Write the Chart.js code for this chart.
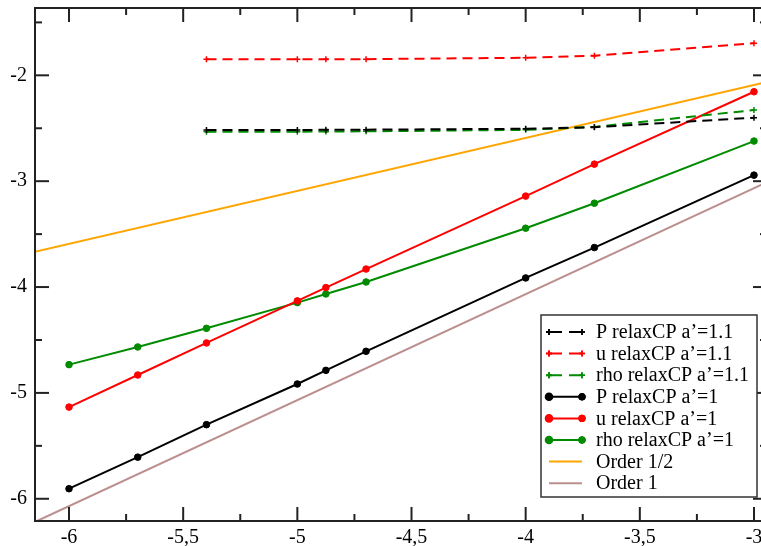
<!DOCTYPE html>
<html>
<head>
<meta charset="utf-8">
<script src="https://cdn.jsdelivr.net/npm/chart.js@4"></script>
<style>
html, body { margin: 0; padding: 0; background: #fff; overflow: hidden; }
#wrap { width: 780px; height: 546px; }
</style>
</head>
<body>
<div id="wrap"><canvas id="canvas" width="780" height="546"></canvas></div>
<script>
// abscisses : log10 du pas
var X_A1  = [-6, -5.699, -5.398, -5, -4.875, -4.699, -4, -3.699, -3];
var X_A11 = [-5.398, -5, -4.875, -4.699, -4, -3.699, -3];
var X_ORDER = [-6.15, -2.943];

// a'=1.1 (tirets)
var P_A11   = [-2.517, -2.516, -2.515, -2.513, -2.505, -2.490, -2.400];
var U_A11   = [-1.849, -1.849, -1.848, -1.847, -1.834, -1.815, -1.697];
var RHO_A11 = [-2.533, -2.532, -2.531, -2.529, -2.515, -2.487, -2.328];

// a'=1 (traits pleins)
var P_A1   = [-5.905, -5.607, -5.300, -4.916, -4.787, -4.607, -3.914, -3.627, -2.943];
var U_A1   = [-5.134, -4.831, -4.528, -4.131, -4.005, -3.830, -3.141, -2.839, -2.155];
var RHO_A1 = [-4.733, -4.566, -4.390, -4.147, -4.065, -3.952, -3.444, -3.208, -2.621];

// droites de reference
var ORDER_HALF = [-3.667, -2.062];
var ORDER_ONE  = [-6.220, -3.010];

var X_TICKS = [-6, -5.5, -5, -4.5, -4, -3.5, -3];
var X_MINOR = [-5.75, -5.25, -4.75, -4.25, -3.75, -3.25];
var Y_TICKS = [-6, -5, -4, -3, -2];
var Y_MINOR = [-5.5, -4.5, -3.5, -2.5, -1.5];

var FONT = "'Liberation Serif', 'Times New Roman', serif";

function pts(xs, ys){
    var out = [];
    for(var i = 0; i < xs.length; i++){
        out.push({x: xs[i], y: ys[i]});
    }
    return out;
}

function serie(label, xs, ys, color, dashed){
    return {
        label: label,
        data: pts(xs, ys),
        borderColor: color,
        backgroundColor: color,
        borderWidth: 2,
        borderDash: dashed ? [10, 6] : [],
        pointStyle: dashed ? 'cross' : 'circle',
        pointRadius: dashed ? 3 : 3.3,
        pointBorderWidth: dashed ? 1.5 : 1,
        tension: 0
    };
}

var GREEN = '#008b00';
var datasets = [
    serie("P relaxCP a\u2019=1.1", X_A11, P_A11, '#000000', true),
    serie("u relaxCP a\u2019=1.1", X_A11, U_A11, '#ff0000', true),
    serie("rho relaxCP a\u2019=1.1", X_A11, RHO_A11, GREEN, true),
    serie("P relaxCP a\u2019=1", X_A1, P_A1, '#000000', false),
    serie("u relaxCP a\u2019=1", X_A1, U_A1, '#ff0000', false),
    serie("rho relaxCP a\u2019=1", X_A1, RHO_A1, GREEN, false),
    serie("Order 1/2", X_ORDER, ORDER_HALF, '#ffa500', false),
    serie("Order 1", X_ORDER, ORDER_ONE, '#bc8f8f', false)
];
datasets[6].pointRadius = 0;
datasets[7].pointRadius = 0;

// cadre + graduations vers l'interieur
var cadre = {
    id: 'cadre',
    afterDraw: function(chart){
        var c = chart.ctx, a = chart.chartArea;
        var sx = chart.scales.x, sy = chart.scales.y;
        c.save();
        c.strokeStyle = '#222';
        c.lineWidth = 2;
        function seg(x1, y1, x2, y2){
            c.beginPath(); c.moveTo(x1, y1); c.lineTo(x2, y2); c.stroke();
        }
        function tx(v, len){
            var p = sx.getPixelForValue(v);
            seg(p, a.bottom, p, a.bottom - len);
            seg(p, a.top, p, a.top + len);
        }
        function ty(v, len){
            var p = sy.getPixelForValue(v);
            seg(a.left, p, a.left + len, p);
            seg(a.right, p, a.right - len, p);
        }
        X_TICKS.forEach(function(v){ tx(v, 14); });
        X_MINOR.forEach(function(v){ tx(v, 7); });
        Y_TICKS.forEach(function(v){ ty(v, 14); });
        Y_MINOR.forEach(function(v){ ty(v, 7); });
        c.strokeRect(a.left, a.top, a.right - a.left, a.bottom - a.top);
        c.restore();
    }
};

// legende dans le cadre
var legende = {
    id: 'legende',
    afterDraw: function(chart){
        var c = chart.ctx;
        var L = 541, T = 315, R = 757, B = 497;
        c.save();
        c.fillStyle = '#fff';
        c.fillRect(L, T, R - L, B - T);
        c.strokeStyle = '#333';
        c.lineWidth = 1.5;
        c.strokeRect(L, T, R - L, B - T);
        chart.data.datasets.forEach(function(ds, i){
            var y = 332 + i * 21.6;
            var x1 = 549, x2 = 582;
            c.strokeStyle = ds.borderColor;
            c.lineWidth = 2;
            c.setLineDash(ds.borderDash.length ? [13, 7] : []);
            c.beginPath(); c.moveTo(x1, y); c.lineTo(x2, y); c.stroke();
            c.setLineDash([]);
            if(ds.pointRadius > 0){
                [x1, x2].forEach(function(px){
                    Chart.helpers.drawPoint(c, {pointStyle: ds.pointStyle, radius: ds.pointRadius, borderWidth: ds.pointBorderWidth, rotation: 0}, px, y);
                    c.fillStyle = ds.backgroundColor;
                    c.lineWidth = ds.pointBorderWidth;
                    if(ds.pointStyle === 'circle') c.fill();
                    c.stroke();
                });
            }
            c.fillStyle = '#000';
            c.font = '20px ' + FONT;
            c.textBaseline = 'middle';
            c.textAlign = 'left';
            c.fillText(ds.label, 596, y + 1);
        });
        c.restore();
    }
};

function virgule(v){
    return String(v).replace('.', ',');
}

var config = {
    type: 'line',
    data: { datasets: datasets },
    options: {
        responsive: false,
        animation: false,
        layout: { padding: { top: 8, right: 13, left: 0, bottom: 0 } },
        plugins: { legend: { display: false }, tooltip: { enabled: false } },
        scales: {
            x: {
                type: 'linear',
                min: -6.149,
                max: -2.943,
                border: { display: false },
                grid: { display: false, drawTicks: false },
                ticks: {
                    color: '#000',
                    font: { family: FONT, size: 20 },
                    padding: 5,
                    callback: function(v){ return virgule(v); }
                },
                afterBuildTicks: function(s){ s.ticks = X_TICKS.map(function(v){ return {value: v}; }); },
                afterFit: function(s){
                    s.height = 25;
                    s.paddingLeft = 0; s.paddingRight = 0;
                }
            },
            y: {
                type: 'linear',
                min: -6.21,
                max: -1.364,
                border: { display: false },
                grid: { display: false, drawTicks: false },
                ticks: {
                    color: '#000',
                    font: { family: FONT, size: 20 },
                    padding: 8,
                    callback: function(v){ return virgule(v); }
                },
                afterBuildTicks: function(s){ s.ticks = Y_TICKS.map(function(v){ return {value: v}; }); },
                afterFit: function(s){
                    s.width = 35;
                    s.paddingTop = 0; s.paddingBottom = 0;
                }
            }
        }
    },
    plugins: [cadre, legende]
};

var ctx = document.getElementById('canvas').getContext('2d');
var chart = new Chart(ctx, config);
</script>
</body>
</html>
